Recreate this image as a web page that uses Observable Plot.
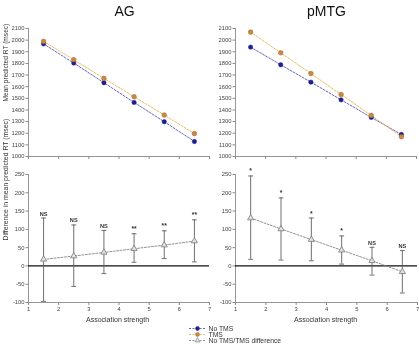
<!DOCTYPE html>
<html>
<head>
<meta charset="utf-8">
<script src="https://cdn.jsdelivr.net/npm/d3@7"></script>
<script src="https://cdn.jsdelivr.net/npm/@observablehq/plot@0.6"></script>
<style>
  html, body { margin: 0; padding: 0; background: #fff; }
  #chart { position: relative; width: 419px; height: 347px; overflow: hidden; font-family: "Liberation Sans", Arial, sans-serif; }
  #chart > svg { position: absolute; will-change: transform; }
</style>
</head>
<body>
<div id="chart"></div>
<script>
// Association strength bins (x positions of each point)
const strength = [1.5, 2.5, 3.5, 4.5, 5.5, 6.5];

// Mean predicted RT (msec), AG
const agNoTMS = [1968, 1803, 1634, 1465, 1299, 1129];
const agTMS   = [1989, 1832, 1671, 1514, 1356, 1197];

// Mean predicted RT (msec), pMTG
const pmtgNoTMS = [1940, 1788, 1639, 1487, 1336, 1189];
const pmtgTMS   = [2069, 1891, 1713, 1533, 1353, 1170];

// No TMS / TMS difference with confidence limits, AG
const agDiff     = [18, 27, 37, 47, 57, 68];
const agDiffHigh = [131, 112, 97, 88, 96, 126];
const agDiffLow  = [-97, -56, -21, 10, 20, 11];
const agSig      = ["NS", "NS", "NS", "**", "**", "**"];

// No TMS / TMS difference with confidence limits, pMTG
const pmtgDiff     = [131, 101, 72, 43, 14, -16];
const pmtgDiffHigh = [246, 186, 131, 82, 51, 42];
const pmtgDiffLow  = [18, 16, 14, 5, -25, -74];
const pmtgSig      = ["*", "*", "*", "*", "NS", "NS"];

// Axis ticks
const strengthTicks = [1, 2, 3, 4, 5, 6, 7];
const meanTicks = [1000, 1100, 1200, 1300, 1400, 1500, 1600, 1700, 1800, 1900, 2000, 2100];
const diffTicks = [-100, -50, 0, 50, 100, 150, 200, 250];

// Series names for the legend
const seriesNames = ["No TMS", "TMS", "No TMS/TMS difference"];

const FONT = "'Liberation Sans', Arial, sans-serif";
const AXIS = "#8a8a8a";
const TICKTEXT = "#444";
const BLUE_DOT = "#1d1d8e";
const BLUE_LINE = "#5656b8";
const ORANGE_DOT = "#c98a45";
const ORANGE_EDGE = "#a8692c";
const ORANGE_LINE = "#e6b64c";
const DIFF_LINE = "#858585";
const BAR = "#5f5f5f";

const chart = document.getElementById("chart");

function place(svg, left, top) {
  svg.style.left = left + "px";
  svg.style.top = top + "px";
  chart.appendChild(svg);
}

// Plain integer labels (no thousands separator, ASCII hyphen for negatives)
const plain = d => String(d);

function frameMarks(yMin, ticks, showXLabels) {
  return [
    Plot.ruleX([1], {stroke: AXIS, strokeWidth: 0.9}),
    Plot.ruleY([yMin], {stroke: AXIS, strokeWidth: 0.9}),
    Plot.axisY(ticks, {tickSize: 2.5, tickPadding: 1.5, fontSize: 5.8, color: TICKTEXT, stroke: AXIS, label: null, tickFormat: plain}),
    Plot.axisX(strengthTicks, {
      tickSize: 3, tickPadding: 1, fontSize: 5.8, color: TICKTEXT, stroke: AXIS, label: null,
      tickFormat: showXLabels ? plain : (() => "")
    })
  ];
}

function meanPanel({noTMS, tms, title, titleDx, yLabel, width, marginLeft, marginRight}) {
  const rows = strength.map((s, i) => ({s, no: noTMS[i], tms: tms[i]}));
  const marks = [
    ...frameMarks(1000, meanTicks, false),
    Plot.line(rows, {x: "s", y: "no", stroke: BLUE_LINE, strokeWidth: 0.9, strokeDasharray: "2,1.5"}),
    Plot.line(rows, {x: "s", y: "tms", stroke: ORANGE_LINE, strokeWidth: 0.9, strokeDasharray: "2,1.5"}),
    Plot.dot(rows, {x: "s", y: "no", r: 2.2, fill: BLUE_DOT, stroke: BLUE_DOT, strokeWidth: 0.5}),
    Plot.dot(rows, {x: "s", y: "tms", r: 2.3, fill: ORANGE_DOT, stroke: ORANGE_EDGE, strokeWidth: 0.6}),
    Plot.text([title], {frameAnchor: "top", dx: titleDx, dy: -13, lineAnchor: "bottom", fontSize: 14, fill: "#111", text: d => d})
  ];
  if (yLabel) {
    marks.push(Plot.text([yLabel], {frameAnchor: "left", rotate: -90, dx: -23, dy: 9, fontSize: 6.6, fill: "#333", text: d => d}));
  }
  return Plot.plot({
    width, height: 165,
    marginLeft, marginRight, marginTop: 28, marginBottom: 9,
    style: {background: "none", overflow: "visible", fontFamily: FONT},
    x: {domain: [1, 7]},
    y: {domain: [1000, 2100]},
    marks
  });
}

function diffPanel({diff, high, low, sig, yLabel, xLabelDx, width, marginLeft, marginRight}) {
  const rows = strength.map((s, i) => ({s, d: diff[i], hi: high[i], lo: low[i], sig: sig[i]}));
  const marks = [
    ...frameMarks(-100, diffTicks, true),
    Plot.ruleY([0], {stroke: "#111", strokeWidth: 1.3}),
    Plot.ruleX(rows, {x: "s", y1: "lo", y2: "hi", stroke: BAR, strokeWidth: 0.9}),
    Plot.link(rows, {x1: d => d.s - 0.08, x2: d => d.s + 0.08, y1: "hi", y2: "hi", stroke: BAR, strokeWidth: 0.9}),
    Plot.link(rows, {x1: d => d.s - 0.08, x2: d => d.s + 0.08, y1: "lo", y2: "lo", stroke: BAR, strokeWidth: 0.9}),
    Plot.line(rows, {x: "s", y: "d", stroke: DIFF_LINE, strokeWidth: 0.9, strokeDasharray: "2,1.5"}),
    Plot.dot(rows, {x: "s", y: "d", symbol: "triangle", r: 2.3, fill: "#e2e2e2", stroke: "#7a7a7a", strokeWidth: 0.8}),
    Plot.text(rows, {x: "s", y: "hi", text: "sig", lineAnchor: "bottom", dy: -2.5,
      fontSize: d => d.sig === "NS" ? 5.6 : 6.8, fontWeight: "bold", fill: "#333"}),
    Plot.text(["Association strength"], {frameAnchor: "bottom", dx: xLabelDx, dy: 17, lineAnchor: "middle", fontSize: 7, fill: "#333", text: d => d})
  ];
  if (yLabel) {
    marks.push(Plot.text([yLabel], {frameAnchor: "left", rotate: -90, dx: -23, dy: 2, fontSize: 6.9, fill: "#333", text: d => d}));
  }
  return Plot.plot({
    width, height: 182,
    marginLeft, marginRight, marginTop: 9, marginBottom: 45,
    style: {background: "none", overflow: "visible", fontFamily: FONT},
    x: {domain: [1, 7]},
    y: {domain: [-100, 250]},
    marks
  });
}

place(meanPanel({noTMS: agNoTMS, tms: agTMS, title: "AG", titleDx: 5.5, yLabel: "Mean predicted RT (msec)",
  width: 212, marginLeft: 28, marginRight: 3}), 0, 0);
place(meanPanel({noTMS: pmtgNoTMS, tms: pmtgTMS, title: "pMTG", titleDx: 0.5, yLabel: null,
  width: 207, marginLeft: 23, marginRight: 3}), 212, 0);
place(diffPanel({diff: agDiff, high: agDiffHigh, low: agDiffLow, sig: agSig, xLabelDx: -1.5,
  yLabel: "Difference in mean predicted RT (msec)", width: 212, marginLeft: 28, marginRight: 3}), 0, 165);
place(diffPanel({diff: pmtgDiff, high: pmtgDiffHigh, low: pmtgDiffLow, sig: pmtgSig, xLabelDx: -1, yLabel: null,
  width: 207, marginLeft: 23, marginRight: 2}), 212, 165);

// Legend: dashed swatch with marker, then the series name
const legendStroke = [BLUE_LINE, ORANGE_LINE, DIFF_LINE];
const legendFill = [BLUE_DOT, ORANGE_DOT, "#e2e2e2"];
const legendEdge = [BLUE_DOT, ORANGE_EDGE, "#7a7a7a"];
const legendSymbol = ["circle", "circle", "triangle"];
const legend = Plot.plot({
  width: 120, height: 24,
  margin: 0, marginLeft: 1, marginRight: 103, marginTop: 3, marginBottom: 3,
  style: {background: "none", overflow: "visible", fontFamily: FONT},
  x: {domain: [0, 1], axis: null},
  y: {type: "point", domain: seriesNames, axis: null},
  marks: [
    Plot.ruleY(seriesNames, {y: d => d, x1: 0, x2: 1, stroke: (d, i) => legendStroke[i], strokeWidth: 0.9, strokeDasharray: "2,1.5"}),
    Plot.dot(seriesNames, {x: 0.5, y: d => d, symbol: (d, i) => legendSymbol[i], r: 1.9,
      fill: (d, i) => legendFill[i], stroke: (d, i) => legendEdge[i], strokeWidth: 0.6}),
    Plot.text(seriesNames, {x: 1, y: d => d, text: d => d, dx: 3, textAnchor: "start", fontSize: 6.8, fill: "#333"})
  ]
});
place(legend, 188, 322);
</script>
</body>
</html>
